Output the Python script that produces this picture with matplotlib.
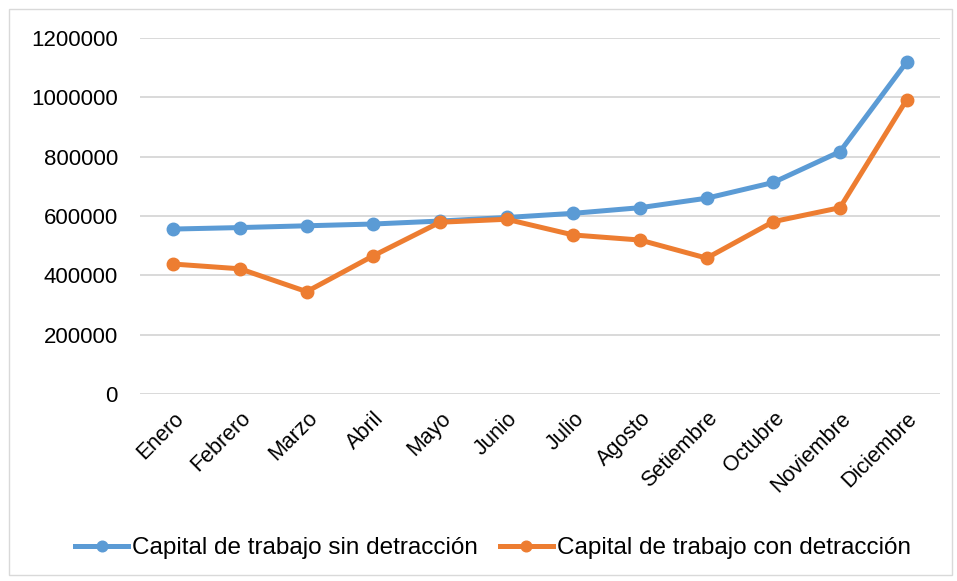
import matplotlib
matplotlib.use('Agg')
import matplotlib.pyplot as plt
from matplotlib.patches import Rectangle

meses = ["Enero", "Febrero", "Marzo", "Abril", "Mayo", "Junio", "Julio",
         "Agosto", "Setiembre", "Octubre", "Noviembre", "Diciembre"]
sin_detraccion = [556000, 561000, 567000, 573000, 583000, 595000, 609000,
                  628000, 660000, 713000, 817000, 1119000]
con_detraccion = [438000, 422000, 345000, 466000, 579000, 589000, 536000,
                  519000, 458000, 581000, 628000, 992000]
y_ticks = [0, 200000, 400000, 600000, 800000, 1000000, 1200000]

plt.rcParams['font.family'] = ['Liberation Sans', 'DejaVu Sans']

fig = plt.figure(figsize=(9.57, 5.81), dpi=100)
ax = fig.add_axes([140 / 957, 1 - 394 / 581, 800 / 957, 356 / 581])

x = range(len(meses))
ax.plot(x, sin_detraccion, color='#5B9BD5', lw=3.6, marker='o', ms=9,
        label='Capital de trabajo sin detracción', zorder=3)
ax.plot(x, con_detraccion, color='#ED7D31', lw=3.6, marker='o', ms=9,
        label='Capital de trabajo con detracción', zorder=4)

ax.set_xlim(-0.5, len(meses) - 0.5)
ax.set_ylim(0, 1200000)
ax.set_yticks(y_ticks)
ax.set_yticklabels([str(v) for v in y_ticks], fontsize=16)
ax.set_xticks(list(x))
ax.set_xticklabels(meses, rotation=45, ha='right', rotation_mode='anchor',
                   fontsize=15.5)
ax.tick_params(axis='y', length=0, pad=16)
ax.tick_params(axis='x', length=0, pad=10)

ax.grid(axis='y', color='#D9D9D9', lw=1.4)
ax.set_axisbelow(True)
for s in ax.spines.values():
    s.set_visible(False)

fig.legend(loc='center', bbox_to_anchor=(0.515, 1 - 548 / 581), ncol=2,
           frameon=False, fontsize=17.5, handlelength=2.2, handletextpad=0.15,
           columnspacing=0.9, markerscale=0.85)

# marco del grafico
fig.patches.append(Rectangle((9 / 957, 0.01), 0.985, 0.975,
                             transform=fig.transFigure, fill=False,
                             edgecolor='#D9D9D9', lw=1))

plt.savefig('out.png', dpi=100)
plt.close()
